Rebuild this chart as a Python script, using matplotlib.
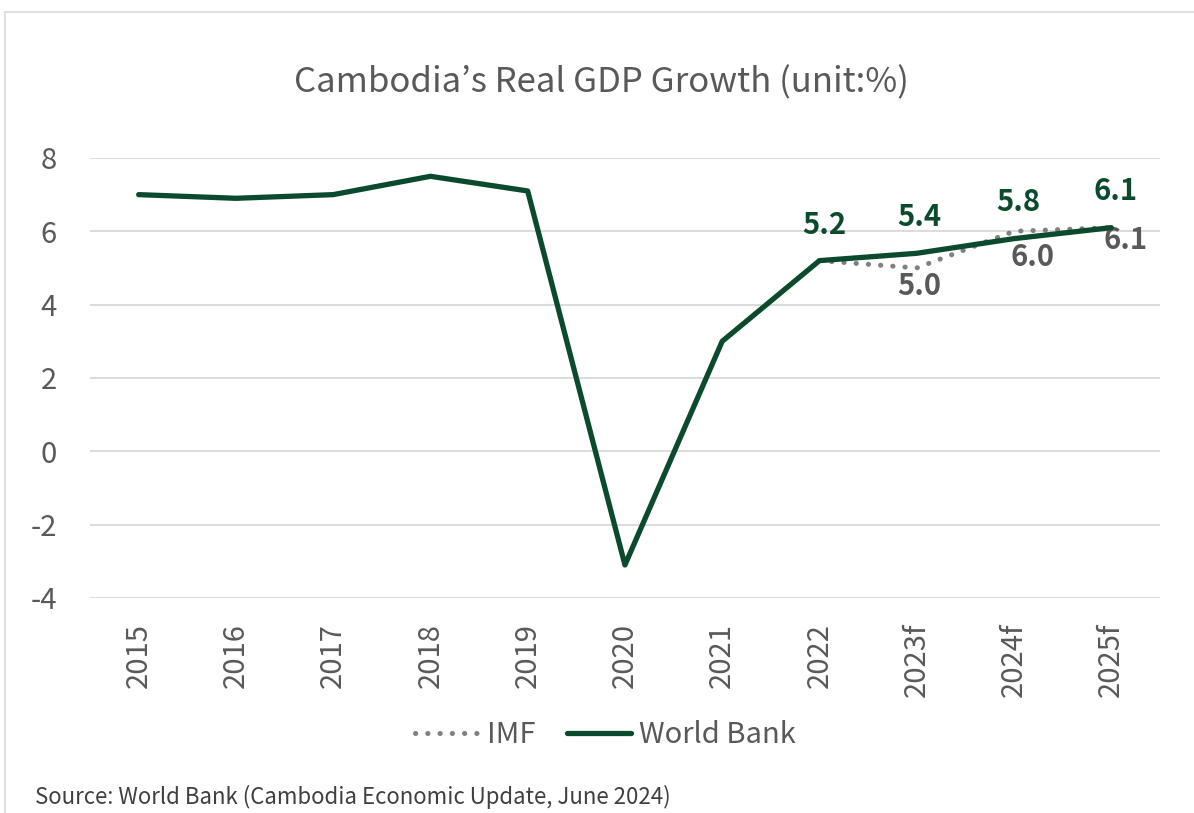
import matplotlib.pyplot as plt
from matplotlib.lines import Line2D

plt.rcParams['font.family'] = ['Noto Sans CJK KR', 'DejaVu Sans']
plt.rcParams['axes.unicode_minus'] = False

# GDP growth, %
years = ['2015', '2016', '2017', '2018', '2019', '2020', '2021', '2022', '2023f', '2024f', '2025f']
world_bank = [7.0, 6.9, 7.0, 7.5, 7.1, -3.1, 3.0, 5.2, 5.4, 5.8, 6.1]
imf_years = ['2022', '2023f', '2024f', '2025f']
imf = [5.2, 5.0, 6.0, 6.1]

green = '#0B4A2C'
grey_txt = '#595959'
grey_line = '#808080'

fig = plt.figure(figsize=(11.94, 8.13), dpi=100)
ax = fig.add_axes([0.0754, 0.2645, 0.896, 0.5412])

x = list(range(len(years)))
xi = [years.index(y) for y in imf_years]

ax.plot(xi, imf, color=grey_line, lw=3.6, linestyle=(0, (0.05, 2.4)),
        dash_capstyle='round', solid_capstyle='round', zorder=3)
ax.plot(x, world_bank, color=green, lw=3.8, solid_joinstyle='round',
        solid_capstyle='round', zorder=4)

# labels on the forecast part
wb_off = {7: (5, 36), 8: (3, 36), 9: (4, 37), 10: (4, 37)}
for i, (dx, dy) in wb_off.items():
    ax.annotate(f'{world_bank[i]:.1f}', (x[i], world_bank[i]), xytext=(dx, dy),
                textcoords='offset pixels', ha='center', va='center',
                fontsize=21, fontweight='bold', color=green)
imf_off = [None, (3, -18), (19, -26), (14, -12)]
for k in range(1, len(imf)):
    dx, dy = imf_off[k]
    ax.annotate(f'{imf[k]:.1f}', (xi[k], imf[k]), xytext=(dx, dy),
                textcoords='offset pixels', ha='center', va='center',
                fontsize=21, fontweight='bold', color=grey_txt)

ax.set_xlim(-0.5, len(years) - 0.5)
ax.set_ylim(-4, 8)
ax.set_yticks([-4, -2, 0, 2, 4, 6, 8])
ax.set_xticks(x)
ax.set_xticklabels(years, rotation=90)
ax.tick_params(length=0, labelsize=21, colors=grey_txt)
ax.tick_params(axis='y', pad=24)
ax.tick_params(axis='x', pad=18)
ax.grid(axis='y', color='#D9D9D9', lw=1.3)
ax.set_axisbelow(True)
for s in ax.spines.values():
    s.set_visible(False)

fig.text(0.504, 0.898, 'Cambodia\u2019s Real GDP Growth (unit:%)', ha='center', va='center',
         fontsize=25, color=grey_txt)

handles = [Line2D([], [], color=grey_line, lw=3.6, linestyle=(0, (0.05, 2.4)), dash_capstyle='round'),
           Line2D([], [], color=green, lw=3.8, solid_capstyle='round')]
fig.legend(handles, ['IMF', 'World Bank'], loc='center', bbox_to_anchor=(0.507, 0.096),
           ncol=2, frameon=False, fontsize=21, labelcolor=grey_txt,
           handlelength=2.2, handletextpad=0.25, columnspacing=1.1)

fig.text(0.029, 0.0197, 'Source: World Bank (Cambodia Economic Update, June 2024)',
         ha='left', va='center', fontsize=16, color='#404040')

# chart frame (top and left edges)
fig.add_artist(Line2D([0.004, 1.0], [0.985, 0.985], color='#D9D9D9', lw=1.2, transform=fig.transFigure))
fig.add_artist(Line2D([0.004, 0.004], [0.0, 0.985], color='#D9D9D9', lw=1.2, transform=fig.transFigure))

fig.savefig('out.png', dpi=100)
